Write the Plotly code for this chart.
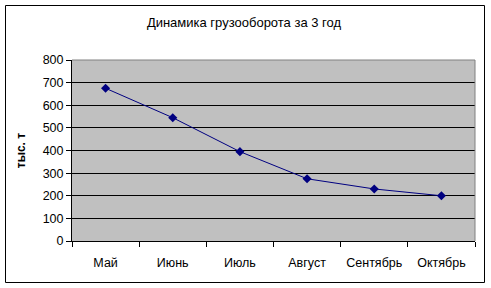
import plotly.graph_objects as go

months = ["Май", "Июнь", "Июль", "Август", "Сентябрь", "Октябрь"]
values = [675, 545, 395, 275, 230, 200]
y_ticks = [0, 100, 200, 300, 400, 500, 600, 700, 800]

W, H = 491, 288
L, R, T, B = 72, 16, 60, 47
pw, ph = W - L - R, H - T - B

def px_x(p):
    return (p - L) / pw

def px_y(p):
    return (H - B - p) / ph

fig = go.Figure()
fig.add_trace(go.Scatter(
    x=months, y=values, mode="lines+markers",
    line=dict(color="#000080", width=1),
    marker=dict(symbol="diamond", size=7, color="#000080"),
    showlegend=False,
))

font = "Liberation Sans, Arial, sans-serif"
fig.update_layout(
    width=W, height=H,
    margin=dict(l=L, r=R, t=T, b=B),
    paper_bgcolor="white",
    plot_bgcolor="#C0C0C0",
    font=dict(family=font, size=12, color="black"),
    title=dict(text="Динамика грузооборота за 3 год", x=244 / W, xref="container",
               y=1 - 22.5 / H, yanchor="middle", xanchor="center",
               font=dict(size=13, family=font)),
    xaxis=dict(
        type="category", tickson="boundaries", range=[-0.5, 5.5],
        showline=True, linecolor="black", linewidth=1,
        ticks="outside", ticklen=5, tickcolor="black",
        showgrid=False, zeroline=False, ticklabelstandoff=10,
        tickfont=dict(size=12.5),
    ),
    yaxis=dict(
        range=[0, 800], tickvals=y_ticks,
        showline=True, linecolor="black", linewidth=1,
        ticks="outside", ticklen=5, tickcolor="black",
        showgrid=True, gridcolor="black", gridwidth=1,
        zeroline=False, tickfont=dict(size=12.5),
        title=dict(text="<b>тыс. т</b>", standoff=14, font=dict(size=12)),
    ),
    shapes=[
        dict(type="line", xref="paper", yref="paper", x0=0, x1=1, y0=1, y1=1,
             line=dict(color="#808080", width=1), layer="above"),
        dict(type="line", xref="paper", yref="paper", x0=1, x1=1, y0=0, y1=1,
             line=dict(color="#808080", width=1), layer="above"),
        dict(type="rect", xref="paper", yref="paper",
             x0=px_x(5.5), x1=px_x(484.5), y0=px_y(282.5), y1=px_y(5.5),
             line=dict(color="black", width=1), layer="above"),
    ],
)

fig.write_html("out.html")
